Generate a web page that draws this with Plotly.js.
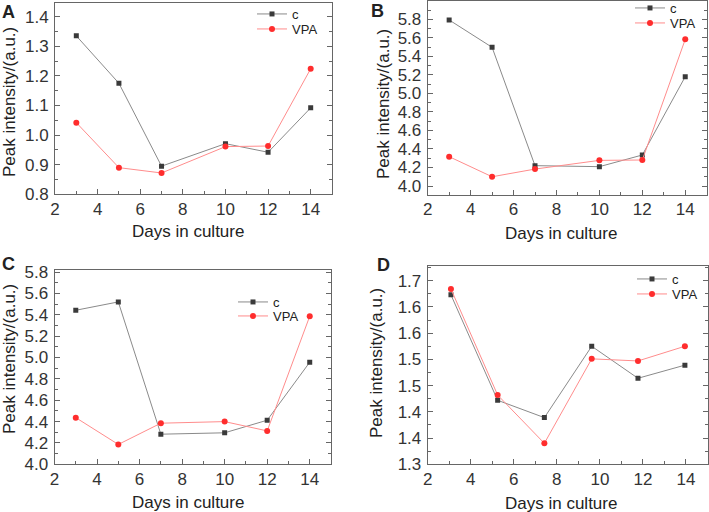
<!DOCTYPE html>
<html>
<head>
<meta charset="utf-8">
<script src="https://cdn.plot.ly/plotly-3.0.1.min.js"></script>
<style>
  html, body { margin: 0; padding: 0; background: #fff; }
  #chart { width: 709px; height: 512px; }
</style>
</head>
<body>
<div id="chart"></div>
<script>
// Peak intensity vs days in culture, four panels (A-D), control (c) vs VPA

const days = [3, 5, 7, 10, 12, 14];
const daysD = [3.08, 5.25, 7.42, 9.62, 11.77, 13.95];

const cA = [1.335, 1.175, 0.895, 0.971, 0.942, 1.092];
const vpaA = [1.042, 0.890, 0.872, 0.961, 0.963, 1.224];

const cB = [5.793, 5.498, 4.220, 4.209, 4.335, 5.181];
const vpaB = [4.317, 4.100, 4.183, 4.277, 4.281, 5.584];

const cC = [5.443, 5.521, 4.282, 4.295, 4.413, 4.956];
const vpaC = [4.437, 4.186, 4.385, 4.400, 4.313, 5.387];

const cD = [1.623, 1.422, 1.389, 1.525, 1.464, 1.489];
const vpaD = [1.634, 1.432, 1.340, 1.501, 1.497, 1.525];

// panel D's y labels are rounded to one decimal in the original
const dTickVals = [1.30, 1.35, 1.40, 1.45, 1.50, 1.55, 1.60, 1.65];
const dTickText = ['1.3', '1.4', '1.4', '1.5', '1.5', '1.6', '1.6', '1.7'];

const W = 709, H = 512;
const px = v => v / W;
const py = v => 1 - v / H;

const FONT = 'Liberation Sans, Arial, sans-serif';
const GREY = '#666';
const TXT = 17;

// one legend per trace so the rows can sit as tight as in the original
let legendNo = 0;
function pair(x, c, v, n) {
    const sfx = n === 1 ? '' : String(n);
    const lc = 'legend' + (++legendNo === 1 ? '' : legendNo);
    const lv = 'legend' + (++legendNo);
    return [
        {
            x: x, y: c, name: 'c', type: 'scatter', mode: 'lines+markers',
            xaxis: 'x' + sfx, yaxis: 'y' + sfx, legend: lc,
            line: { color: '#8a8a8a', width: 1 },
            marker: { symbol: 'square', size: 5, color: '#3a3a3a' }
        },
        {
            x: x, y: v, name: 'VPA', type: 'scatter', mode: 'lines+markers',
            xaxis: 'x' + sfx, yaxis: 'y' + sfx, legend: lv,
            line: { color: '#ff8c8c', width: 1 },
            marker: { symbol: 'circle', size: 6, color: '#ff2d2d' }
        }
    ];
}

const data = [
    ...pair(days, cA, vpaA, 1),
    ...pair(days, cB, vpaB, 2),
    ...pair(days, cC, vpaC, 3),
    ...pair(daysD, cD, vpaD, 4)
];

function xAxis(left, right, anchor) {
    return {
        domain: [px(left), px(right)], anchor: anchor,
        range: [2, 15], dtick: 2, tick0: 2,
        showline: true, mirror: true, linecolor: GREY, linewidth: 1,
        ticks: 'inside', ticklen: 5, tickcolor: GREY,
        minor: { ticks: 'inside', ticklen: 3, dtick: 1, tickcolor: GREY },
        showgrid: false, zeroline: false,
        ticklabelstandoff: -1,
        tickfont: { family: FONT, size: TXT, color: '#333' }
    };
}

function yAxis(top, bottom, anchor, range, dtick, minorDtick) {
    return {
        domain: [py(bottom), py(top)], anchor: anchor,
        range: range, dtick: dtick, tick0: 0,
        showline: true, mirror: 'ticks', linecolor: GREY, linewidth: 1,
        ticks: 'inside', ticklen: 5, tickcolor: GREY,
        minor: { ticks: 'inside', ticklen: 3, dtick: minorDtick, tickcolor: GREY },
        showgrid: false, zeroline: false,
        ticklabelstandoff: 2,
        tickformat: '.1f',
        tickfont: { family: FONT, size: TXT, color: '#333' }
    };
}

// x = where the legend text starts, y = centre of the row
function legendAt(x, y) {
    return {
        x: px(x - 40), y: py(y), xanchor: 'left', yanchor: 'middle',
        bgcolor: 'rgba(0,0,0,0)', borderwidth: 0,
        font: { family: FONT, size: 13, color: '#222' },
        itemwidth: 30, tracegroupgap: 0
    };
}

const yD = yAxis(266, 464.3, 'x4', [1.3, 1.678], 0.05, 0.025);
yD.tickmode = 'array';
yD.tickvals = dTickVals;
yD.ticktext = dTickText;
yD.minor = { ticks: 'inside', ticklen: 3, tickcolor: GREY,
             tickvals: dTickVals.map(v => v + 0.025) };

function note(text, x, y, angle, size) {
    return {
        text: text, xref: 'paper', yref: 'paper',
        x: px(x), y: py(y), xanchor: 'center', yanchor: 'middle',
        showarrow: false, textangle: angle,
        font: { family: FONT, size: size, color: '#222' }
    };
}
const yTitle = (x, y) => note('Peak intensity/(a.u.)', x, y, -90, TXT);
const xTitle = (x, y) => note('Days in culture', x, y, 0, TXT);
const letter = (t, x, y) => note('<b>' + t + '</b>', x, y, 0, 18);

const layout = {
    width: W, height: H,
    margin: { l: 0, r: 0, t: 0, b: 0, autoexpand: false },
    paper_bgcolor: '#fff', plot_bgcolor: '#fff',
    showlegend: true,
    xaxis: xAxis(55, 332, 'y'),
    yaxis: yAxis(2.7, 194.3, 'x', [0.8, 1.447], 0.1, 0.05),
    xaxis2: xAxis(427.7, 706.7, 'y2'),
    yaxis2: yAxis(1, 195, 'x2', [3.903, 5.998], 0.2, 0.1),
    xaxis3: xAxis(54.5, 331, 'y3'),
    yaxis3: yAxis(270, 464.3, 'x3', [4.0, 5.82], 0.2, 0.1),
    xaxis4: xAxis(427.7, 707.5, 'y4'),
    yaxis4: yD,
    legend: legendAt(292, 14),
    legend2: legendAt(292, 29),
    legend3: legendAt(670, 8),
    legend4: legendAt(670, 23),
    legend5: legendAt(273, 302),
    legend6: legendAt(273, 316),
    legend7: legendAt(672, 279),
    legend8: legendAt(672, 294),
    annotations: [
        letter('A', 8, 12), letter('B', 378, 11),
        letter('C', 8, 264), letter('D', 383, 265),
        yTitle(9, 102), yTitle(383, 104),
        yTitle(9, 359), yTitle(376, 363),
        xTitle(188, 231), xTitle(561, 233),
        xTitle(188, 502), xTitle(561, 503)
    ]
};

Plotly.newPlot('chart', data, layout, { staticPlot: true });
</script>
</body>
</html>
